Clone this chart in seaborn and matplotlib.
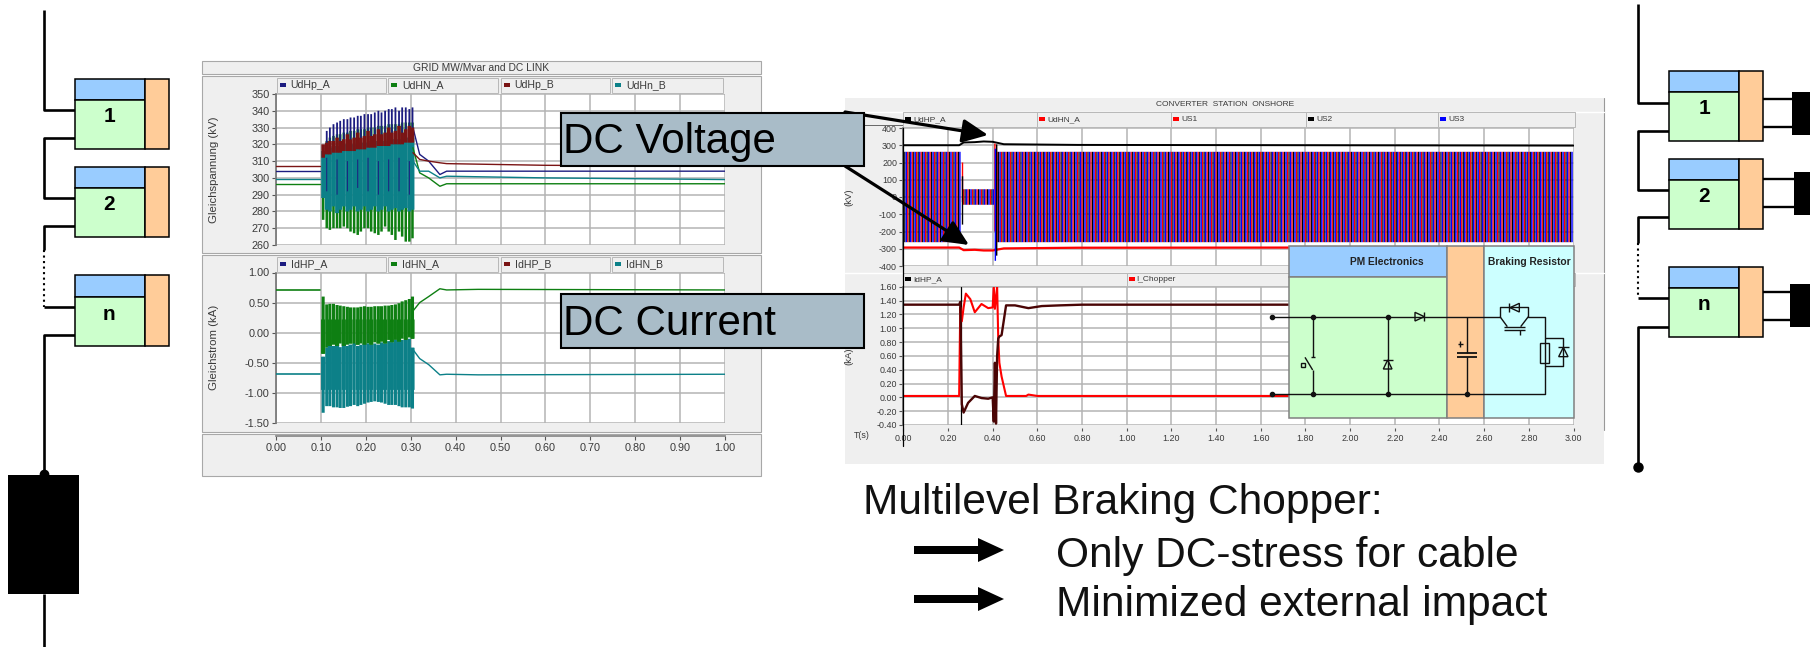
import numpy as np
import pandas as pd
import matplotlib
matplotlib.use("Agg")
import matplotlib.pyplot as plt
from matplotlib.patches import Rectangle, Polygon
import seaborn as sns

# ---- left chart: steady parts of the traces (time, value)
g_pre_t = [0.0, 0.098]
g_post_t = [0.305, 0.32, 0.34, 0.365, 0.38, 0.60, 1.0]
udhp_a_pre = [304, 304]
udhn_a_pre = [296.5, 296.5]
udhp_b_pre = [307, 307]
udhn_b_pre = [299.5, 299.5]
udhp_a_post = [330, 314, 310, 302, 304, 304, 304]
udhn_a_post = [318, 303, 300, 295, 296.5, 296.5, 296.5]
udhp_b_post = [315, 311, 310, 309, 308.5, 307.5, 307]
udhn_b_post = [310, 304, 304, 300, 301, 300, 299]

i_post_t = [0.305, 0.32, 0.34, 0.365, 0.38, 0.45, 1.0]
idhn_a_pre = [0.71, 0.71]
idhn_b_pre = [-0.68, -0.68]
idhn_a_post = [0.36, 0.50, 0.60, 0.73, 0.71, 0.72, 0.71]
idhn_b_post = [-0.28, -0.43, -0.53, -0.70, -0.69, -0.70, -0.69]

# ---- left chart: oscillating teeth during the fault
tooth_t = [0.105, 0.113, 0.120, 0.128, 0.136, 0.143, 0.151, 0.159, 0.166, 0.174, 0.182, 0.189, 0.197, 0.205,
           0.212, 0.220, 0.228, 0.235, 0.243, 0.251, 0.258, 0.266, 0.274, 0.281, 0.289, 0.297, 0.304]
ua_hi = [318, 328, 330, 332, 333, 334, 335, 335, 336, 336, 337, 337, 338, 338,
         338, 339, 340, 339, 340, 341, 341, 342, 340, 342, 342, 341, 342]
ua_lo = [312, 314, 314, 315, 315, 316, 316, 316, 317, 317, 318, 318, 318, 318,
         319, 319, 320, 320, 320, 320, 321, 321, 321, 322, 322, 322, 322]
un_hi = [315, 322, 324, 325, 326, 326, 327, 327, 328, 328, 329, 329, 329, 330,
         330, 330, 331, 331, 331, 332, 332, 332, 332, 333, 333, 333, 333]
un_lo = [275, 270, 269, 270, 270, 270, 271, 270, 268, 267, 266, 268, 270, 270,
         268, 267, 266, 268, 271, 268, 266, 263, 268, 265, 262, 262, 264]
ub_hi = [320, 321, 322, 322, 324, 322, 323, 326, 323, 324, 327, 324, 325, 328,
         325, 326, 329, 326, 327, 330, 327, 328, 331, 327, 329, 331, 330]
ub_lo = [312, 314, 314, 315, 315, 315, 316, 316, 316, 316, 317, 317, 317, 318,
         318, 318, 319, 319, 319, 319, 320, 320, 320, 320, 321, 321, 321]
ut_hi = [316, 318, 318, 319, 319, 319, 320, 320, 320, 320, 321, 321, 321, 321,
         322, 322, 322, 322, 322, 323, 323, 323, 323, 323, 324, 324, 324]
ut_lo = [288, 281, 280, 283, 279, 281, 283, 280, 281, 283, 280, 281, 283, 280,
         281, 283, 280, 281, 283, 280, 281, 282, 280, 281, 282, 280, 281]
in_hi = [0.60, 0.47, 0.48, 0.48, 0.46, 0.45, 0.44, 0.43, 0.42, 0.42, 0.42, 0.43, 0.44, 0.43,
         0.43, 0.44, 0.44, 0.44, 0.45, 0.45, 0.46, 0.47, 0.49, 0.52, 0.54, 0.56, 0.60]
in_lo = [-0.35, -0.25, -0.22, -0.20, -0.22, -0.18, -0.22, -0.20, -0.18, -0.22, -0.20, -0.18, -0.20, -0.18,
         -0.20, -0.16, -0.18, -0.15, -0.18, -0.12, -0.16, -0.12, -0.15, -0.10, -0.12, -0.08, -0.10]
it_hi = [-0.40, -0.25, -0.20, -0.22, -0.20, -0.24, -0.18, -0.22, -0.20, -0.18, -0.22, -0.20, -0.18, -0.18,
         -0.20, -0.18, -0.20, -0.16, -0.18, -0.14, -0.16, -0.12, -0.14, -0.12, -0.12, -0.10, -0.25]
it_lo = [-1.33, -1.22, -1.22, -1.24, -1.24, -1.25, -1.25, -1.23, -1.22, -1.20, -1.22, -1.20, -1.18, -1.16,
         -1.15, -1.14, -1.15, -1.16, -1.18, -1.20, -1.20, -1.20, -1.22, -1.24, -1.24, -1.24, -1.26]
# dark streaks of UdHp_A seen through the teal block
streak_t = [0.113, 0.136, 0.159, 0.182, 0.205, 0.228, 0.251, 0.274, 0.297]
streak_lo = [292, 290, 292, 294, 292, 290, 292, 292, 290]
streak_hi = [312, 311, 310, 311, 312, 310, 311, 312, 310]

# ---- right chart: three-phase voltages, crest times of each 20 ms cycle
us_t_pre = [0.00, 0.02, 0.04, 0.06, 0.08, 0.10, 0.12, 0.14, 0.16, 0.18, 0.20, 0.22, 0.24]
us_t_fault = [0.27, 0.29, 0.31, 0.33, 0.35, 0.37, 0.39]
us_t_post = [0.42, 0.44, 0.46, 0.48, 0.50, 0.52, 0.54, 0.56, 0.58, 0.60, 0.62, 0.64, 0.66, 0.68, 0.70, 0.72,
             0.74, 0.76, 0.78, 0.80, 0.82, 0.84, 0.86, 0.88, 0.90, 0.92, 0.94, 0.96, 0.98, 1.00, 1.02, 1.04,
             1.06, 1.08, 1.10, 1.12, 1.14, 1.16, 1.18, 1.20, 1.22, 1.24, 1.26, 1.28, 1.30, 1.32, 1.34, 1.36,
             1.38, 1.40, 1.42, 1.44, 1.46, 1.48, 1.50, 1.52, 1.54, 1.56, 1.58, 1.60, 1.62, 1.64, 1.66, 1.68,
             1.70, 1.72, 1.74, 1.76, 1.78, 1.80, 1.82, 1.84, 1.86, 1.88, 1.90, 1.92, 1.94, 1.96, 1.98, 2.00,
             2.02, 2.04, 2.06, 2.08, 2.10, 2.12, 2.14, 2.16, 2.18, 2.20, 2.22, 2.24, 2.26, 2.28, 2.30, 2.32,
             2.34, 2.36, 2.38, 2.40, 2.42, 2.44, 2.46, 2.48, 2.50, 2.52, 2.54, 2.56, 2.58, 2.60, 2.62, 2.64,
             2.66, 2.68, 2.70, 2.72, 2.74, 2.76, 2.78, 2.80, 2.82, 2.84, 2.86, 2.88, 2.90, 2.92, 2.94, 2.96, 2.98]
us_phase = [0.0, 0.0067, 0.0133]          # s, US1 / US2 / US3
us_peak_normal = 262                      # kV
us_peak_fault = 45                        # kV
us_spike_t = [0.265, 0.265, 0.410, 0.418, 0.412]
us_spike_hi = [200, 120, 310, 305, 280]
us_spike_lo = [-30, -160, -200, -340, -370]

u_t = [0.00, 0.25, 0.27, 0.32, 0.36, 0.40, 0.45, 0.78, 3.00]
udhp_r = [300, 300, 316, 318, 322, 320, 306, 302, 298]
udhn_r = [-293, -293, -308, -306, -310, -310, -298, -294, -292]

i_t = [0.00, 0.25, 0.255, 0.262, 0.27, 0.29, 0.32, 0.35, 0.38, 0.40, 0.405, 0.41, 0.415, 0.42, 0.425, 0.43, 0.44, 0.46,
       0.50, 0.56, 0.62, 0.70, 0.80, 3.00]
idhp_r = [1.34, 1.34, 1.38, -0.10, -0.22, -0.08, 0.02, -0.01, -0.02, 0.00, -0.35, 0.50, -0.38, 0.60, 0.85, 0.88, 0.90,
          1.33, 1.33, 1.29, 1.32, 1.33, 1.34, 1.34]
ic_t = [0.00, 0.25, 0.255, 0.262, 0.27, 0.28, 0.30, 0.32, 0.35, 0.38, 0.40, 0.405, 0.41, 0.42, 0.425, 0.43, 0.44, 0.46, 0.55, 0.56, 0.60, 3.00]
ichop = [0.02, 0.02, 1.30, 1.10, 1.30, 1.50, 1.42, 1.23, 1.35, 1.29, 1.30, 1.60, 1.28, 1.60, 0.85, 0.50, 0.30, 0.02, 0.02, 0.04, 0.02, 0.02]

left_u_ticks = [260, 270, 280, 290, 300, 310, 320, 330, 340, 350]
left_i_ticks = [-1.5, -1.0, -0.5, 0.0, 0.5, 1.0]
left_x_ticks = [0.0, 0.1, 0.2, 0.3, 0.4, 0.5, 0.6, 0.7, 0.8, 0.9, 1.0]
right_u_ticks = [-400, -300, -200, -100, 0, 100, 200, 300, 400]
right_i_ticks = [-0.4, -0.2, 0.0, 0.2, 0.4, 0.6, 0.8, 1.0, 1.2, 1.4, 1.6]
right_x_ticks = [0.0, 0.2, 0.4, 0.6, 0.8, 1.0, 1.2, 1.4, 1.6, 1.8, 2.0, 2.2, 2.4, 2.6, 2.8, 3.0]

left_u_legend = ["UdHp_A", "UdHN_A", "UdHp_B", "UdHn_B"]
left_i_legend = ["IdHP_A", "IdHN_A", "IdHP_B", "IdHN_B"]
right_u_legend = ["UdHP_A", "UdHN_A", "US1", "US2", "US3"]
right_i_legend = ["IdHP_A", "I_Chopper"]

NAVY, GREEN, DRED, TEAL = "#1c1c80", "#0e7f12", "#7a1414", "#0c8088"
C_BLUE, C_GREEN, C_ORANGE, C_CYAN = "#99CCFF", "#CCFFCC", "#FFCC99", "#CCFFFF"
PANEL, TXT, GRID = "#efefef", "#3a3a3a", "#b4b4b4"

sns.set_theme(style="white")
plt.rcParams["font.family"] = ["Liberation Sans", "DejaVu Sans"]

W, H = 1810, 647
fig = plt.figure(figsize=(W / 100, H / 100), dpi=100, facecolor="white")


def axpx(l, t, r, b, **kw):
    return fig.add_axes([l / W, 1 - b / H, (r - l) / W, (b - t) / H], **kw)


def full(z):
    a = axpx(0, 0, W, H)
    a.set_xlim(0, W)
    a.set_ylim(H, 0)
    a.axis("off")
    a.patch.set_alpha(0)
    a.set_zorder(z)
    return a


def rect(a, l, t, r, b, fc, ec="none", lw=1.0, z=1):
    a.add_patch(Rectangle((l, t), r - l, b - t, fc=fc, ec=ec, lw=lw, zorder=z))


def line(ax, x, y, color, lw=1.0):
    df = pd.DataFrame({"x": x, "y": y})
    sns.lineplot(data=df, x="x", y="y", ax=ax, color=color, lw=lw, estimator=None, sort=False,
                 legend=False, zorder=5)


def vl(ax, x, lo, hi, **kw):
    c = ax.vlines(x, lo, hi, **kw)
    c.set_snap(False)
    return c


def style(ax, xlim, ylim, xt, yt, fmt, size, ylabel, lab_x, lab_size):
    ax.set_xlim(*xlim)
    ax.set_ylim(*ylim)
    ax.set_xticks(xt)
    ax.set_yticks(yt)
    ax.set_yticklabels([fmt % v for v in yt], fontsize=size, color=TXT)
    ax.set_xticklabels([])
    ax.grid(True, color=GRID, lw=1.1)
    ax.set_axisbelow(True)
    ax.tick_params(axis="y", left=True, length=3, width=0.8, color="#555555", pad=1.5)
    ax.tick_params(axis="x", bottom=False, length=0)
    for s in ["top", "right", "bottom"]:
        ax.spines[s].set_visible(False)
    ax.spines["left"].set_color("#777777")
    ax.set_ylabel(ylabel, fontsize=lab_size, color=TXT)
    ax.yaxis.set_label_coords(lab_x, 0.5)
    ax.set_xlabel("")
    ax.set_facecolor("white")
    ax.set_zorder(2)


def legend_row(a, cells, names, colors, top, bot, mark, off, size):
    for (l, r), n, c in zip(cells, names, colors):
        rect(a, l, top, r, bot, PANEL, "#b8b8b8", 0.7, 2)
        a.add_patch(Rectangle((l + mark, (top + bot) / 2 - 2.5), 6, 4, fc=c, ec="none", zorder=3))
        a.text(l + off, (top + bot) / 2, n, fontsize=size, color=TXT, va="center", ha="left", zorder=3)


# ---------- backgrounds
bg = full(1)
rect(bg, 202, 61, 761, 74, PANEL, "#a8a8a8", 0.8)
rect(bg, 202, 76, 761, 253, PANEL, "#a8a8a8", 0.8)
rect(bg, 202, 255, 761, 432, PANEL, "#a8a8a8", 0.8)
rect(bg, 202, 434, 761, 476, PANEL, "#a8a8a8", 0.8)
bg.text(481, 68, "GRID MW/Mvar and DC LINK", fontsize=7.4, color=TXT, ha="center", va="center")
lc = [(276.5, 386), (388, 498), (500.5, 610), (612, 723)]
lcol = [NAVY, GREEN, DRED, TEAL]
legend_row(bg, lc, left_u_legend, lcol, 78, 93, 3, 14, 7.6)
legend_row(bg, lc, left_i_legend, lcol, 257, 271.5, 3, 14, 7.6)

rect(bg, 845, 98, 1604, 464, PANEL)
bg.plot([1604, 1604], [98, 430], color="#999999", lw=0.8)
bg.plot([845, 1604], [112, 112], color="white", lw=1.0)
bg.plot([845, 1604], [272.5, 272.5], color="white", lw=1.0)
bg.plot([845, 903], [125, 125], color="#666666", lw=0.7)
bg.text(1225, 105, "CONVERTER  STATION  ONSHORE", fontsize=6, color=TXT, ha="center", va="center")
rc = [(903, 1037), (1037, 1171), (1171, 1306), (1306, 1438), (1438, 1575)]
legend_row(bg, rc, right_u_legend, ["black", "red", "red", "black", "blue"], 112, 127, 2, 10, 6.0)
legend_row(bg, [(903, 1126.5), (1126.5, 1575)], right_i_legend, ["black", "red"], 273, 286, 2, 10, 6.0)
bg.text(862, 436, "T(s)", fontsize=6.4, color=TXT, ha="center", va="center")

# ---------- left voltage chart
ax = axpx(276, 94, 725, 245)
vl(ax, tooth_t, un_lo, un_hi, color=GREEN, lw=1.8, zorder=3)
vl(ax, tooth_t, ua_lo, ua_hi, color=NAVY, lw=1.3, zorder=3)
vl(ax, tooth_t, ut_lo, ut_hi, color=TEAL, lw=2.8, zorder=4)
vl(ax, streak_t, streak_lo, streak_hi, color=NAVY, lw=0.7, zorder=5)
vl(ax, tooth_t, ub_lo, ub_hi, color=DRED, lw=2.6, zorder=6)
for pre, post, c in [(udhp_a_pre, udhp_a_post, NAVY), (udhn_a_pre, udhn_a_post, GREEN),
                     (udhp_b_pre, udhp_b_post, DRED), (udhn_b_pre, udhn_b_post, TEAL)]:
    line(ax, g_pre_t, pre, c, 1.0)
    line(ax, g_post_t, post, c, 1.0)
style(ax, (0, 1), (260, 350), left_x_ticks, left_u_ticks, "%d", 7.8, "Gleichspannung (kV)", -0.126, 8.2)

# ---------- left current chart
ax = axpx(276, 272.5, 725, 423)
vl(ax, tooth_t, in_lo, in_hi, color=GREEN, lw=2.2, zorder=3)
vl(ax, tooth_t, it_lo, it_hi, color=TEAL, lw=2.2, zorder=4)
vl(ax, tooth_t[::2], -0.95, np.array(it_hi[::2]), color=TEAL, lw=3.0, zorder=4)
vl(ax, tooth_t[::2], np.array(in_lo[::2]), 0.22, color=GREEN, lw=3.0, zorder=4)
for pre, post, c in [(idhn_a_pre, idhn_a_post, GREEN), (idhn_b_pre, idhn_b_post, TEAL)]:
    line(ax, g_pre_t, pre, c, 1.2)
    line(ax, i_post_t, post, c, 1.0)
style(ax, (0, 1), (-1.5, 1.0), left_x_ticks, left_i_ticks, "%.2f", 7.8, "Gleichstrom (kA)", -0.126, 8.2)

# ---------- left x axis strip
ax = axpx(276, 428, 725, 436)
ax.set_facecolor("none")
ax.set_xlim(0, 1)
ax.set_yticks([])
ax.set_xticks(left_x_ticks)
ax.set_xticklabels(["%.2f" % v for v in left_x_ticks], fontsize=7.8, color=TXT)
ax.tick_params(axis="x", bottom=True, length=3, width=0.8, color="#555555", pad=2)
for s in ["top", "right", "left"]:
    ax.spines[s].set_visible(False)
ax.spines["bottom"].set_color("#888888")
ax.set_zorder(2)

# ---------- right voltage chart
ax = axpx(903.3, 128, 1573.5, 266)
for ph, c, z, w in zip(us_phase, ["red", "black", "blue"], [3, 4, 5], [1.0, 0.85, 1.05]):
    vl(ax, np.array(us_t_pre) + ph, -us_peak_normal, us_peak_normal, color=c, lw=w, zorder=z)
    vl(ax, np.array(us_t_fault) + ph, -us_peak_fault, us_peak_fault, color=c, lw=w, zorder=z)
    vl(ax, np.array(us_t_post) + ph, -us_peak_normal, us_peak_normal, color=c, lw=w, zorder=z)
vl(ax, us_spike_t, us_spike_lo, us_spike_hi, color=["red", "black", "red", "black", "blue"], lw=1.0, zorder=6)
line(ax, u_t, udhp_r, "black", 1.4)
line(ax, u_t, udhn_r, "red", 1.6)
style(ax, (0, 3), (-400, 400), right_x_ticks, right_u_ticks, "%d", 6.4, "(kV)", -0.075, 6.8)

# ---------- right current chart
ax = axpx(903.3, 286.7, 1573.5, 425)
ax.axvline(0.26, color="black", lw=0.9, zorder=4)
line(ax, ic_t, ichop, "red", 1.5)
line(ax, i_t, idhp_r, "#4a0505", 1.7)
style(ax, (0, 3), (-0.4, 1.6), right_x_ticks, right_i_ticks, "%.2f", 6.4, "(kA)", -0.075, 6.8)

# ---------- right x axis strip
ax = axpx(903.3, 423, 1573.5, 428)
ax.set_facecolor("none")
ax.set_xlim(0, 3)
ax.set_yticks([])
ax.set_xticks(right_x_ticks)
ax.set_xticklabels(["%.2f" % v for v in right_x_ticks], fontsize=6.4, color=TXT)
ax.tick_params(axis="x", bottom=True, length=2, width=0.8, color="#555555", pad=2)
for s in ["top", "right", "left", "bottom"]:
    ax.spines[s].set_visible(False)
ax.set_zorder(2)

# ---------- overlay: diagrams and annotations
ov = full(5)
ov.plot([903.3, 903.3], [128, 446], color="black", lw=0.9, zorder=2)


def block(l, r, div, t, split, b, label, tx, ty):
    rect(ov, l, t, div, split, C_BLUE, "black", 1.1, 3)
    rect(ov, l, split, div, b, C_GREEN, "black", 1.1, 3)
    rect(ov, div, t, r, b, C_ORANGE, "black", 1.1, 3)
    ov.text(tx, ty, label, fontsize=15, fontweight="bold", color="black", ha="center", va="center", zorder=4)


def wire(x, y, lw=1.9, ls="-"):
    ov.plot(x, y, color="black", lw=lw, ls=ls, solid_capstyle="butt", zorder=2)


# left string
block(75, 169, 145, 78.5, 99.5, 149, "1", 109, 116)
block(75, 169, 145, 166.5, 188, 236.5, "2", 109, 204)
block(75, 169, 145, 275, 296.5, 345.5, "n", 109, 314)
wire([43.7, 43.7, 75], [10, 110, 110])
wire([75, 43.7, 43.7, 75], [137.6, 137.6, 198, 198])
wire([75, 43.7, 43.7], [225.6, 225.6, 250])
wire([43.7, 43.7], [250, 306.6], 1.5, ":")
wire([43.7, 75], [306.6, 306.6])
wire([75, 43.7, 43.7], [334.7, 334.7, 475])
wire([43.7, 43.7], [594, 647])
rect(ov, 8, 475, 79, 594, "black")
ov.plot([43.7], [474], "o", color="black", ms=6, zorder=2)

# right string
block(1669, 1763, 1739, 71, 92, 141, "1", 1704, 108)
block(1669, 1763, 1739, 159, 180, 228.7, "2", 1704, 197)
block(1669, 1763, 1739, 267, 288, 337, "n", 1704, 305)
wire([1638, 1638, 1669], [4, 102.7, 102.7])
wire([1669, 1638, 1638, 1669], [130.7, 130.7, 190, 190])
wire([1669, 1638, 1638], [217, 217, 243])
wire([1638, 1638], [243, 298], 1.5, ":")
wire([1638, 1669], [298, 298])
wire([1669, 1638, 1638], [327, 327, 467])
ov.plot([1638], [467], "o", color="black", ms=6.5, zorder=2)
for (x0, x1, t, b, ys) in [(1763, 1792, 92, 135, (99, 127)), (1763, 1794, 172, 215, (179, 207)),
                           (1761, 1790, 284, 327, (292, 320))]:
    rect(ov, x1, t, W, b, "black")
    for y in ys:
        wire([x0, x1], [y, y], 1.7)

# PM electronics inset
rect(ov, 1289, 245.7, 1447, 276.7, C_BLUE, "#808080", 1.1, 1)
rect(ov, 1289, 276.7, 1447, 418, C_GREEN, "#808080", 1.1, 1)
rect(ov, 1447, 245.7, 1483.7, 418, C_ORANGE, "#808080", 1.1, 1)
rect(ov, 1483.7, 245.7, 1574, 418, C_CYAN, "#808080", 1.1, 1)
ov.text(1386.5, 262, "PM Electronics", fontsize=7.4, fontweight="bold", color="#222222", ha="center", va="center")
ov.text(1529, 262, "Braking Resistor", fontsize=7.4, fontweight="bold", color="#222222", ha="center", va="center")


def Z(pts):
    return [p[0] / 3 + 1270 for p in pts], [p[1] / 3 + 230 for p in pts]


def cw(*pts, lw=1.0):
    x, y = Z(pts)
    ov.plot(x, y, color="#111111", lw=lw, solid_capstyle="butt", zorder=4)


def tri(*pts):
    x, y = Z(pts)
    ov.add_patch(Polygon(list(zip(x, y)), closed=True, fc="none", ec="#111111", lw=1.0, zorder=5))


cw((5, 260), (690, 260), (690, 232), (775, 232), (775, 260), (825, 260), (825, 491), (5, 491))
cw((690, 260), (712, 290))
cw((775, 260), (752, 290))
cw((702, 290), (765, 290))
cw((702, 300), (765, 300))
cw((750, 300), (750, 315))
tri((748, 220), (748, 246), (720, 233))
cw((718, 220), (718, 246))
cw((128, 260), (128, 382))
cw((122, 382), (134, 382))
cw((128, 420), (105, 382))
cw((128, 420), (128, 491))
tri((92, 398), (105, 398), (105, 411), (92, 411))
cw((353, 260), (353, 491))
tri((340, 417), (366, 417), (353, 390))
cw((338, 390), (368, 390))
tri((435, 247), (435, 273), (463, 260))
cw((463, 247), (463, 273))
cw((591, 260), (591, 368))
cw((562, 368), (620, 368), lw=1.3)
cw((562, 382), (620, 382), lw=1.3)
cw((591, 382), (591, 491))
cw((563, 342), (579, 342))
cw((571, 334), (571, 350))
tri((810, 338), (838, 338), (838, 398), (810, 398))
cw((825, 323), (880, 323), (880, 408), (825, 408))
tri((866, 380), (894, 380), (880, 352))
cw((864, 352), (896, 352))
dx, dy = Z([(5, 260), (5, 491), (128, 260), (128, 491), (353, 260), (353, 491), (591, 491)])
ov.plot(dx, dy, "o", color="#111111", ms=3, zorder=5)

# call-out boxes
for t, b, base, s in [(113, 166, 153, "DC Voltage"), (294, 348, 335, "DC Current")]:
    rect(ov, 561, t, 864, b, "#A9BCC8", "black", 1.5, 6)
    ov.text(563, base, s, fontsize=30.3, color="black", ha="left", va="baseline", zorder=7)

for start, tip in [((845, 112), (988, 135)), ((845, 166), (969, 245))]:
    ov.annotate("", xy=tip, xytext=start, zorder=5,
                arrowprops=dict(arrowstyle="-|>,head_length=1.3,head_width=0.6", color="black", lw=2.3,
                                shrinkA=0, shrinkB=0))

# lower text
ov.text(863, 503, "Multilevel Braking Chopper:", fontsize=30.6, color="#111111", ha="left", va="center")
ov.text(1056, 555.5, "Only DC-stress for cable", fontsize=30.6, color="#111111", ha="left", va="center")
ov.text(1056, 605, "Minimized external impact", fontsize=30.6, color="#111111", ha="left", va="center")
for y in [550, 599]:
    ov.add_patch(Polygon([(914, y - 4), (978, y - 4), (978, y - 12), (1004, y), (978, y + 12), (978, y + 4), (914, y + 4)],
                         closed=True, fc="black", ec="none", zorder=5))

fig.savefig("out.png", dpi=100)
